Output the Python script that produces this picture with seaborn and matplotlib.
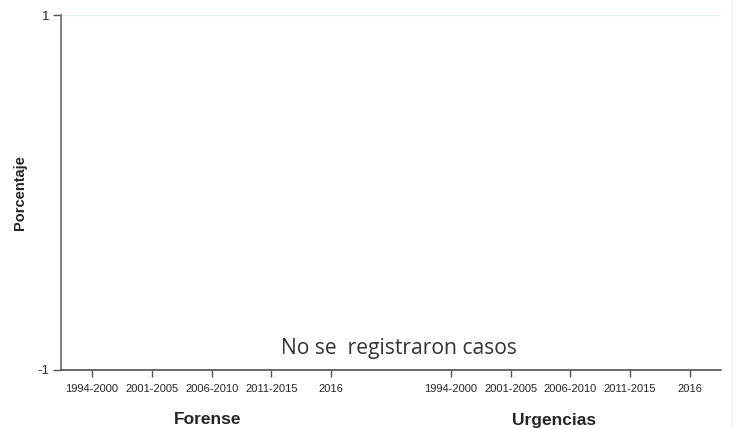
import numpy as np
import pandas as pd
import matplotlib
matplotlib.use("Agg")
import matplotlib.pyplot as plt
import seaborn as sns
from matplotlib.lines import Line2D

periods = ["1994-2000", "2001-2005", "2006-2010", "2011-2015", "2016"]
groups = ["Forense", "Urgencias"]
forense_pct = [0, 0, 0, 0, 0]
urgencias_pct = [0, 0, 0, 0, 0]
y_ticks = [-1, 1]
note = "No se  registraron casos"

sns.set_style("white")
plt.rcParams["font.family"] = ["Liberation Sans", "DejaVu Sans"]

# one slot gap between the two groups
rows = []
for g, (name, vals) in enumerate(zip(groups, [forense_pct, urgencias_pct])):
    for i, (p, v) in enumerate(zip(periods, vals)):
        rows.append({"pos": g * 6 + i, "grupo": name, "periodo": p, "pct": v})
df = pd.DataFrame(rows)

fig = plt.figure(figsize=(7.46, 4.29), dpi=100)
ax = fig.add_axes([61 / 746, 1 - 370 / 429, (721 - 61) / 746, (370 - 15) / 429])

sns.barplot(data=df, x="pos", y="pct", native_scale=True, color="#1f77b4",
            linewidth=0, ax=ax, width=0.6)

ax.set_xlim(-0.52, 10.52)
ax.set_ylim(-1, 1)
ax.set_yticks(y_ticks)
ax.set_yticklabels([str(t) for t in y_ticks], fontsize=9.5)
ax.set_xticks(df["pos"])
ax.set_xticklabels(df["periodo"], fontsize=8)
ax.set_xlabel("")
ax.set_ylabel("Porcentaje", fontsize=10.5, fontweight="bold", labelpad=7)

ax.grid(axis="y", color="#e6eef3", lw=1.6)
ax.set_axisbelow(True)
sns.despine(ax=ax)
ax.spines["left"].set_color("#7a7a7a")
ax.spines["left"].set_linewidth(1.3)
ax.spines["bottom"].set_color("#444444")
ax.spines["bottom"].set_linewidth(1.1)
ax.tick_params(axis="x", length=5, width=1, color="#555555", pad=5, bottom=True)
ax.tick_params(axis="y", length=5.5, width=1, color="#555555", pad=3, left=True)

# group labels
fig.text(207.5 / 746, 1 - 420 / 429, groups[0], ha="center", va="center",
         fontsize=12.5, fontweight="bold")
fig.text(554 / 746, 1 - 420 / 429, groups[1], ha="center", va="center",
         fontsize=12.5, fontweight="bold")

fig.text(399 / 746, 1 - 354 / 429, note, ha="center", va="baseline",
         fontsize=15.2, color="#333333", family=["Open Sans", "DejaVu Sans"])

fig.add_artist(Line2D([732 / 746, 732 / 746], [0, 1], color="#f0f0f0", lw=1))

fig.savefig("out.png", dpi=100)
